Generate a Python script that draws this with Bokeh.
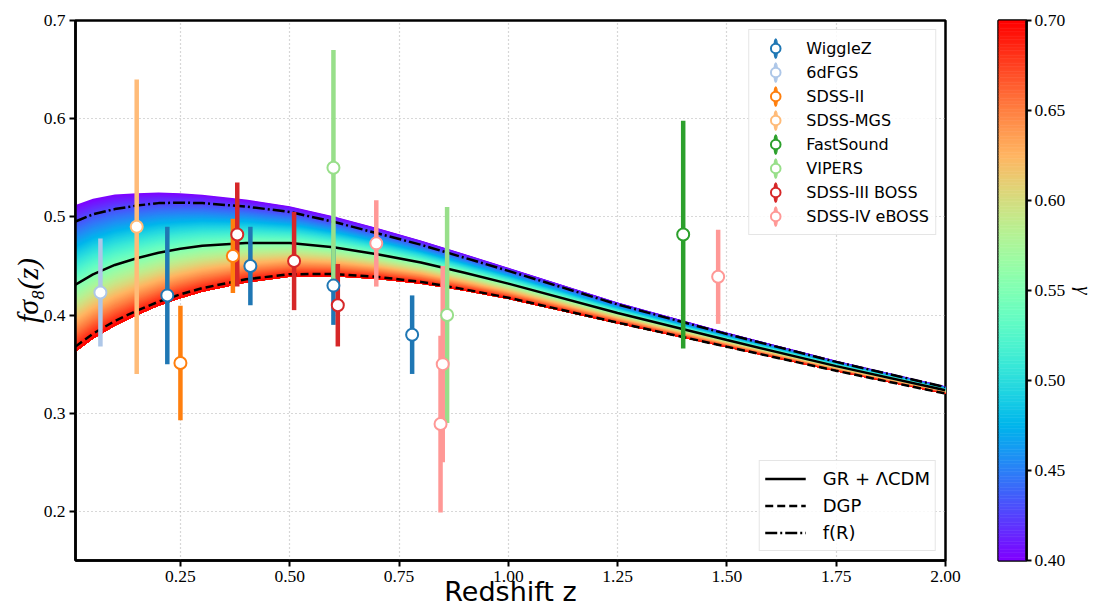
import numpy as np
from bokeh.plotting import figure
from bokeh.layouts import row
from bokeh.models import Range1d, FixedTicker, PrintfTickFormatter, Legend, LegendItem
from bokeh.embed import file_html
from bokeh.resources import INLINE

# ---------------- model curves ----------------
z_model = [0.01, 0.05, 0.1, 0.15, 0.2, 0.25, 0.3, 0.4, 0.5, 0.6, 0.7, 0.8, 0.9, 1.0, 1.25, 1.5, 1.75, 2.0]
fs8_gr = [0.431, 0.4415, 0.451, 0.4578, 0.4635, 0.4675, 0.4705, 0.4735, 0.4735, 0.469, 0.462,
          0.4535, 0.443, 0.432, 0.402, 0.3745, 0.348, 0.3235]
fs8_dgp = [0.3679, 0.3810, 0.3940, 0.4044, 0.4136, 0.4211, 0.4274, 0.4364, 0.4416, 0.4418, 0.4389,
           0.4338, 0.4262, 0.4177, 0.3923, 0.3677, 0.3432, 0.3200]
fs8_fr = [0.4953, 0.5026, 0.5079, 0.5115, 0.5140, 0.5145, 0.5140, 0.5105, 0.5050, 0.4950, 0.4833,
          0.4716, 0.4583, 0.4450, 0.4108, 0.3806, 0.3523, 0.3266]
band_gamma_040 = [0.5122, 0.5185, 0.5227, 0.5241, 0.5248, 0.5240, 0.5226, 0.5176, 0.5109, 0.5006,
                  0.4887, 0.4760, 0.4621, 0.4482, 0.4129, 0.3821, 0.3534, 0.3274]
band_gamma_070 = [0.3627, 0.3759, 0.3892, 0.3999, 0.4094, 0.4171, 0.4236, 0.4331, 0.4389, 0.4394,
                  0.4368, 0.4320, 0.4247, 0.4164, 0.3914, 0.3671, 0.3427, 0.3197]
gamma_min, gamma_max = 0.40, 0.70

# ---------------- measurements ----------------
survey_names = ["WiggleZ", "6dFGS", "SDSS-II", "SDSS-MGS", "FastSound", "VIPERS",
                "SDSS-III BOSS", "SDSS-IV eBOSS"]
survey_colors = ["#1f77b4", "#aec7e8", "#ff7f0e", "#ffbb78", "#2ca02c", "#98df8a",
                 "#d62728", "#ff9896"]

wigglez_z = [0.22, 0.41, 0.60, 0.78]
wigglez_fs8 = [0.42, 0.45, 0.43, 0.38]
wigglez_err = [0.07, 0.04, 0.04, 0.04]

sixdf_z = [0.067]
sixdf_fs8 = [0.423]
sixdf_err = [0.055]

sdss2_z = [0.25, 0.37]
sdss2_fs8 = [0.3512, 0.4602]
sdss2_err = [0.0583, 0.0378]

mgs_z = [0.15]
mgs_fs8 = [0.49]
mgs_err = [0.15]

fastsound_z = [1.40]
fastsound_fs8 = [0.482]
fastsound_err = [0.116]

vipers_z = [0.60, 0.86]
vipers_fs8 = [0.55, 0.40]
vipers_err = [0.12, 0.11]

boss_z = [0.38, 0.51, 0.61]
boss_fs8 = [0.482, 0.455, 0.41]
boss_err = [0.053, 0.050, 0.042]

eboss_z = [0.698, 0.85, 0.845, 1.48]
eboss_fs8 = [0.473, 0.35, 0.289, 0.439]
eboss_err = [0.044, 0.10, 0.09, 0.048]

survey_z = [wigglez_z, sixdf_z, sdss2_z, mgs_z, fastsound_z, vipers_z, boss_z, eboss_z]
survey_fs8 = [wigglez_fs8, sixdf_fs8, sdss2_fs8, mgs_fs8, fastsound_fs8, vipers_fs8, boss_fs8, eboss_fs8]
survey_err = [wigglez_err, sixdf_err, sdss2_err, mgs_err, fastsound_err, vipers_err, boss_err, eboss_err]

x_ticks = [0.25, 0.50, 0.75, 1.00, 1.25, 1.50, 1.75, 2.00]
y_ticks = [0.2, 0.3, 0.4, 0.5, 0.6, 0.7]
cbar_ticks = [0.40, 0.45, 0.50, 0.55, 0.60, 0.65, 0.70]


def rainbow(t):
    r = abs(2 * t - 0.5)
    g = np.sin(np.pi * t)
    b = np.cos(np.pi * t / 2)
    return "#%02x%02x%02x" % tuple(int(round(255 * max(0.0, min(1.0, c)))) for c in (r, g, b))


SERIF = "Liberation Serif"
SANS = "DejaVu Sans"

p = figure(frame_width=870, frame_height=540, x_range=Range1d(0.01, 2.0), y_range=Range1d(0.15, 0.70),
           output_backend="svg", toolbar_location=None,
           min_border_left=75, min_border_right=30, min_border_top=20, min_border_bottom=53)
p.background_fill_color = "white"
p.border_fill_color = "white"
p.outline_line_color = "black"
p.outline_line_width = 2.5

p.xaxis.ticker = FixedTicker(ticks=x_ticks)
p.xaxis.formatter = PrintfTickFormatter(format="%.2f")
p.yaxis.ticker = FixedTicker(ticks=y_ticks)
p.yaxis.formatter = PrintfTickFormatter(format="%.1f")
for ax in (p.xaxis[0], p.yaxis[0]):
    ax.axis_line_width = 2.5
    ax.axis_line_color = "black"
    ax.major_tick_line_width = 2
    ax.major_tick_out = 6
    ax.major_tick_in = 0
    ax.minor_tick_out = 0
    ax.minor_tick_in = 0
    ax.major_label_text_font = SERIF
    ax.major_label_text_font_size = "17.5px"
    ax.major_label_text_color = "black"
    ax.major_label_standoff = 4
    ax.axis_label_text_color = "black"

p.xaxis.axis_label = "Redshift z"
p.xaxis.axis_label_text_font = SANS
p.xaxis.axis_label_text_font_style = "normal"
p.xaxis.axis_label_text_font_size = "27px"
p.xaxis.axis_label_standoff = -9

p.yaxis.axis_label = "fσ₈(z)"
p.yaxis.axis_label_text_font = SERIF
p.yaxis.axis_label_text_font_style = "italic"
p.yaxis.axis_label_text_font_size = "30px"
p.yaxis.axis_label_standoff = -3

for g in (p.xgrid[0], p.ygrid[0]):
    g.grid_line_color = "#b0b0b0"
    g.grid_line_dash = "1 3"
    g.grid_line_width = 1.2

# ----- gamma band (colour follows gamma between the two edge curves) -----
zt = np.asarray(z_model)
top = np.asarray(band_gamma_040)
bot = np.asarray(band_gamma_070)
N = 150
for k in range(N):
    t0 = k / N
    upper = top * (bot / top) ** t0
    p.varea(x=zt, y1=upper, y2=bot, fill_color=rainbow((k + 0.5) / N), fill_alpha=1.0)

# ----- theory lines -----
r_gr = p.line(z_model, fs8_gr, line_color="black", line_width=2.5)
r_dgp = p.line(z_model, fs8_dgp, line_color="black", line_width=2.5, line_dash="8 4")
r_fr = p.line(z_model, fs8_fr, line_color="black", line_width=2.5, line_dash="12 3 2 3")

# ----- data -----
bar_renderers = []
for zs, vs, es, c in zip(survey_z, survey_fs8, survey_err, survey_colors):
    zs_a, vs_a, es_a = np.asarray(zs), np.asarray(vs), np.asarray(es)
    p.segment(x0=zs_a, y0=vs_a - es_a, x1=zs_a, y1=vs_a + es_a, line_color=c, line_width=4.5)
    er = p.ellipse(x=zs_a, y=vs_a, width=3, height=18, width_units="screen", height_units="screen",
                   fill_color=c, line_color=c, line_width=1.5)
    bar_renderers.append(er)

circle_renderers = []
for zs, vs, c in zip(survey_z, survey_fs8, survey_colors):
    cr = p.scatter(x=zs, y=vs, marker="circle", size=12, fill_color="white",
                   line_color=c, line_width=2)
    circle_renderers.append(cr)

leg1 = Legend(items=[LegendItem(label=n, renderers=[b, c])
                     for n, b, c in zip(survey_names, bar_renderers, circle_renderers)],
              location="top_right", margin=9, padding=6, spacing=0,
              glyph_width=40, glyph_height=24, label_height=24, label_standoff=11,
              label_text_font=SANS, label_text_font_size="16px", label_text_color="black",
              border_line_color="#cccccc", border_line_width=1.5,
              background_fill_color="white", background_fill_alpha=0.85)
p.add_layout(leg1)

leg2 = Legend(items=[LegendItem(label="GR + ΛCDM", renderers=[r_gr]),
                     LegendItem(label="DGP", renderers=[r_dgp]),
                     LegendItem(label="f(R)", renderers=[r_fr])],
              location="bottom_right", margin=9, padding=5, spacing=2,
              glyph_width=41, glyph_height=25, label_height=25, label_standoff=17,
              label_text_font=SANS, label_text_font_size="18px", label_text_color="black",
              border_line_color="#cccccc", border_line_width=1.5,
              background_fill_color="white", background_fill_alpha=0.85)
p.add_layout(leg2)

# ---------------- colour bar ----------------
cb = figure(frame_width=28, frame_height=540, x_range=Range1d(0, 1), y_range=Range1d(gamma_min, gamma_max),
            output_backend="svg", toolbar_location=None, y_axis_location="right",
            min_border_left=23, min_border_right=5, min_border_top=20, min_border_bottom=53)
cb.xaxis.visible = False
cb.grid.visible = False
cb.background_fill_color = "white"
cb.border_fill_color = "white"
cb.outline_line_color = "black"
cb.outline_line_width = 2.5
M = 200
levels = np.linspace(gamma_min, gamma_max, M + 1)
cols = [rainbow((i + 0.5) / M) for i in range(M)]
cb.quad(left=0, right=1, bottom=levels[:-1], top=levels[1:], fill_color=cols, line_color=cols,
        line_width=0.6)
cax = cb.yaxis[0]
cax.ticker = FixedTicker(ticks=cbar_ticks)
cax.formatter = PrintfTickFormatter(format="%.2f")
cax.axis_line_width = 2.5
cax.major_tick_line_width = 2
cax.major_tick_out = 5
cax.major_tick_in = 0
cax.minor_tick_out = 0
cax.minor_tick_in = 0
cax.major_label_text_font = SERIF
cax.major_label_text_font_size = "17.5px"
cax.major_label_text_color = "black"
cax.major_label_standoff = 3
cax.axis_label = "γ"
cax.axis_label_text_font = SERIF
cax.axis_label_text_font_style = "italic"
cax.axis_label_text_font_size = "21px"
cax.axis_label_text_color = "black"
cax.axis_label_standoff = 4

layout = row(p, cb)
open("out.html", "w").write(file_html(layout, INLINE))
